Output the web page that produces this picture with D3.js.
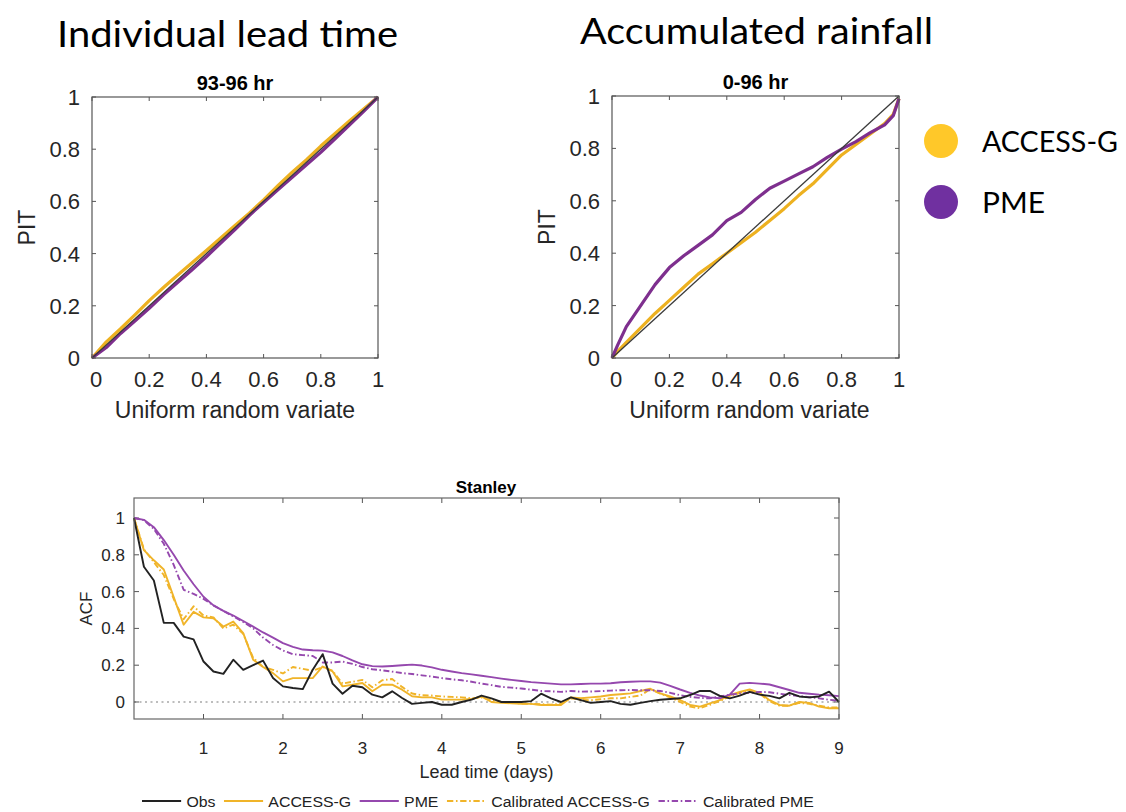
<!DOCTYPE html>
<html><head><meta charset="utf-8">
<script src="https://cdn.jsdelivr.net/npm/d3@7"></script>
<style>
html,body{margin:0;padding:0;background:#fff;}
svg{display:block;}
text{font-family:"Liberation Sans",Arial,sans-serif;fill:#262626;}
</style></head>
<body>
<svg id="chart" width="1126" height="812"></svg>
<script>
// ---------- DATA ----------
const pitTicks = [0, 0.2, 0.4, 0.6, 0.8, 1];
const pitTickLabels = ["0", "0.2", "0.4", "0.6", "0.8", "1"];

// Individual lead time (93-96 hr)
const indivX = [0,0.05,0.1,0.15,0.2,0.25,0.3,0.35,0.4,0.45,0.5,0.55,0.6,0.65,0.7,0.75,0.8,0.85,0.9,0.95,1];
const indivAccess = [0,0.062,0.112,0.165,0.22,0.27,0.318,0.365,0.412,0.46,0.508,0.555,0.606,0.66,0.712,0.76,0.812,0.86,0.908,0.954,1];
const indivPme = [0,0.04,0.094,0.142,0.19,0.242,0.29,0.338,0.388,0.44,0.492,0.546,0.596,0.644,0.692,0.74,0.788,0.84,0.892,0.945,1];

// Accumulated rainfall (0-96 hr)
const accumX = [0,0.02,0.05,0.1,0.15,0.2,0.25,0.3,0.35,0.4,0.45,0.5,0.55,0.6,0.65,0.7,0.75,0.8,0.85,0.9,0.95,0.98,1];
const accumAccess = [0,0.025,0.06,0.115,0.17,0.22,0.27,0.32,0.36,0.4,0.44,0.48,0.525,0.57,0.62,0.665,0.72,0.775,0.815,0.855,0.895,0.93,0.99];
const accumPme = [0,0.05,0.12,0.2,0.28,0.345,0.39,0.43,0.47,0.524,0.556,0.605,0.648,0.675,0.703,0.73,0.766,0.797,0.826,0.86,0.89,0.925,0.99];

// Lead-time ACF (Stanley)
const leadDays = [0.125,0.25,0.375,0.5,0.625,0.75,0.875,1,1.125,1.25,1.375,1.5,1.625,1.75,1.875,2,2.125,2.25,2.375,2.5,2.625,2.75,2.875,3,3.125,3.25,3.375,3.5,3.625,3.75,3.875,4,4.125,4.25,4.375,4.5,4.625,4.75,4.875,5,5.125,5.25,5.375,5.5,5.625,5.75,5.875,6,6.125,6.25,6.375,6.5,6.625,6.75,6.875,7,7.125,7.25,7.375,7.5,7.625,7.75,7.875,8,8.125,8.25,8.375,8.5,8.625,8.75,8.875,9];
const acfObs = [1.0,0.735,0.66,0.43,0.43,0.355,0.34,0.22,0.166,0.153,0.23,0.175,0.2,0.225,0.13,0.085,0.076,0.07,0.175,0.26,0.10,0.045,0.088,0.08,0.04,0.025,0.058,0.022,-0.01,-0.005,0.0,-0.015,-0.015,0.0,0.013,0.035,0.02,0.0,0.0,0.0,0.005,0.045,0.02,0.0,0.025,0.01,-0.005,0.0,0.005,-0.01,-0.015,-0.005,0.005,0.012,0.016,0.02,0.038,0.06,0.06,0.033,0.02,0.035,0.055,0.04,0.033,0.02,0.05,0.03,0.025,0.03,0.056,0.0];
const acfAccess = [1.0,0.825,0.77,0.72,0.57,0.42,0.49,0.46,0.455,0.41,0.437,0.374,0.23,0.19,0.157,0.112,0.13,0.13,0.13,0.193,0.166,0.085,0.094,0.103,0.058,0.094,0.094,0.067,0.031,0.025,0.025,0.013,0.013,0.013,0.016,0.03,0.0,-0.005,-0.007,-0.01,-0.01,-0.016,-0.016,-0.016,0.025,0.02,0.025,0.03,0.038,0.042,0.047,0.06,0.072,0.047,0.03,0.01,-0.016,-0.025,-0.007,0.01,0.037,0.055,0.068,0.05,0.01,-0.016,-0.02,0.0,-0.005,-0.025,-0.034,-0.034];
const acfPme = [1.0,0.99,0.95,0.88,0.8,0.715,0.64,0.572,0.525,0.495,0.47,0.44,0.41,0.378,0.35,0.32,0.3,0.285,0.281,0.279,0.27,0.25,0.226,0.205,0.195,0.193,0.196,0.2,0.203,0.198,0.188,0.175,0.166,0.157,0.15,0.143,0.135,0.127,0.12,0.114,0.108,0.104,0.1,0.096,0.096,0.098,0.1,0.1,0.102,0.107,0.11,0.112,0.112,0.105,0.088,0.068,0.05,0.035,0.025,0.02,0.04,0.1,0.104,0.1,0.095,0.08,0.065,0.05,0.045,0.04,0.037,0.032];
const acfCalAccess = [1.0,0.83,0.76,0.69,0.56,0.45,0.52,0.47,0.46,0.40,0.42,0.37,0.24,0.19,0.175,0.155,0.19,0.18,0.17,0.19,0.17,0.1,0.11,0.12,0.08,0.118,0.125,0.082,0.046,0.037,0.035,0.03,0.028,0.025,0.02,0.025,0.01,0.0,-0.005,-0.008,-0.01,-0.012,-0.014,-0.01,0.02,0.012,0.01,0.015,0.02,0.02,0.028,0.035,0.07,0.045,0.025,0.0,-0.025,-0.034,-0.015,0.005,0.03,0.05,0.062,0.045,0.005,-0.02,-0.02,-0.005,-0.01,-0.02,-0.03,-0.03];
const acfCalPme = [1.0,0.988,0.94,0.86,0.745,0.61,0.588,0.56,0.525,0.495,0.465,0.435,0.4,0.35,0.31,0.28,0.26,0.255,0.25,0.215,0.215,0.22,0.207,0.19,0.178,0.172,0.165,0.157,0.152,0.145,0.138,0.13,0.123,0.118,0.11,0.1,0.092,0.082,0.078,0.073,0.067,0.06,0.058,0.055,0.06,0.056,0.057,0.059,0.062,0.064,0.065,0.064,0.064,0.06,0.05,0.037,0.028,0.022,0.02,0.03,0.04,0.046,0.05,0.055,0.053,0.045,0.038,0.032,0.026,0.02,0.012,0.007];
const acfXTicks = [1,2,3,4,5,6,7,8,9];
const acfYTicks = [0,0.2,0.4,0.6,0.8,1];
const acfYTickLabels = ["0","0.2","0.4","0.6","0.8","1"];

const seriesNames = ["Obs","ACCESS-G","PME","Calibrated ACCESS-G","Calibrated PME"];
const topLegendNames = ["ACCESS-G","PME"];

// ---------- STYLE ----------
const YEL = "#EDB120", PUR = "#7E2F8E";
const YEL_B = "#F0B429", PUR_B = "#9548AE";
const svg = d3.select("#chart");
const titleFont = "Lato, 'Open Sans', sans-serif";

// ---------- TOP TITLES ----------
svg.append("text").attr("x", 57).attr("y", 47)
  .attr("textLength", 341).attr("lengthAdjust","spacingAndGlyphs")
  .style("font-family",titleFont).style("font-size","37px").style("fill","#000")
  .text("Individual lead time");
svg.append("text").attr("x", 580).attr("y", 44)
  .attr("textLength", 353).attr("lengthAdjust","spacingAndGlyphs")
  .style("font-family",titleFont).style("font-size","37px").style("fill","#000")
  .text("Accumulated rainfall");

// ---------- PIT PANEL ----------
function pitPanel(o){
  const x = d3.scaleLinear().domain([0,1]).range([o.left,o.right]);
  const y = d3.scaleLinear().domain([0,1]).range([o.bottom,o.top]);
  const g = svg.append("g");
  const tl = 4;
  pitTicks.forEach(t=>{
    g.append("line").attr("x1",x(t)).attr("x2",x(t)).attr("y1",o.bottom).attr("y2",o.bottom-tl).attr("stroke","#555");
    g.append("line").attr("x1",x(t)).attr("x2",x(t)).attr("y1",o.top).attr("y2",o.top+tl).attr("stroke","#555");
    g.append("line").attr("y1",y(t)).attr("y2",y(t)).attr("x1",o.left).attr("x2",o.left+tl).attr("stroke","#555");
    g.append("line").attr("y1",y(t)).attr("y2",y(t)).attr("x1",o.right).attr("x2",o.right-tl).attr("stroke","#555");
  });
  pitTicks.forEach((t,i)=>{
    g.append("text").attr("x",x(t)+ (i===0?4:0)).attr("y",o.bottom+29).attr("text-anchor","middle")
      .style("font-size","22px").text(pitTickLabels[i]);
    g.append("text").attr("x",o.left-12).attr("y",y(t)+8).attr("text-anchor","end")
      .style("font-size","22px").text(pitTickLabels[i]);
  });
  const line = d3.line().x(d=>x(d[0])).y(d=>y(d[1]));
  const drawS = (xs, ys, col) => g.append("path").datum(xs.map((v,i)=>[v,ys[i]]))
      .attr("d",line).attr("fill","none").attr("stroke",col).attr("stroke-width",3.2).attr("stroke-linejoin","round");
  drawS(o.xs, o.access, YEL);
  drawS(o.xs, o.pme, PUR);
  g.append("path").datum([[0,0],[1,1]]).attr("d",line).attr("fill","none").attr("stroke","#3a3a3a").attr("stroke-width",1.3);
  g.append("rect").attr("x",o.left).attr("y",o.top).attr("width",o.right-o.left).attr("height",o.bottom-o.top)
    .attr("fill","none").attr("stroke","#555").attr("stroke-width",1.2);
  g.append("text").attr("x",(o.left+o.right)/2).attr("y",o.top-7).attr("text-anchor","middle")
    .style("font-size","20px").style("font-weight","bold").style("fill","#000").text(o.title);
  g.append("text").attr("x",(o.left+o.right)/2 + o.xlOff).attr("y",o.bottom+60).attr("text-anchor","middle")
    .style("font-size","23px").text("Uniform random variate");
  g.append("text").attr("transform",`translate(${o.left-57},${(o.top+o.bottom)/2}) rotate(-90)`).attr("text-anchor","middle")
    .style("font-size","23px").text("PIT");
}
pitPanel({left:92,right:378,top:97,bottom:358,title:"93-96 hr",xs:indivX,access:indivAccess,pme:indivPme,xlOff:0});
pitPanel({left:612,right:899,top:96,bottom:358,title:"0-96 hr",xs:accumX,access:accumAccess,pme:accumPme,xlOff:-6});

// ---------- TOP LEGEND ----------
const legCols = ["#FFC829","#7030A0"];
const legW = [136, 63];
topLegendNames.forEach((n,i)=>{
  svg.append("circle").attr("cx",941).attr("cy",141+i*61).attr("r",17).attr("fill",legCols[i]);
  svg.append("text").attr("x",982).attr("y",152+i*61)
    .attr("textLength", legW[i]).attr("lengthAdjust","spacingAndGlyphs")
    .style("font-family",titleFont).style("font-size","29px").style("fill","#000").text(n);
});

// ---------- ACF PANEL ----------
const B = {left:134,right:839,top:498,bottom:719};
const bx = d3.scaleLinear().domain([0.125,9]).range([B.left,B.right]);
const by = d3.scaleLinear().domain([-0.0924,1.1087]).range([B.bottom,B.top]);
const bg = svg.append("g");
bg.append("line").attr("x1",B.left).attr("x2",B.right).attr("y1",by(0)).attr("y2",by(0))
  .attr("stroke","#a8a8a8").attr("stroke-width",1.6).attr("stroke-dasharray","2,3.5");
acfXTicks.forEach(t=>{
  bg.append("line").attr("x1",bx(t)).attr("x2",bx(t)).attr("y1",B.bottom).attr("y2",B.bottom-5).attr("stroke","#555");
  bg.append("line").attr("x1",bx(t)).attr("x2",bx(t)).attr("y1",B.top).attr("y2",B.top+5).attr("stroke","#555");
  bg.append("text").attr("x",bx(t)).attr("y",B.bottom+35).attr("text-anchor","middle").style("font-size","17px").text(String(t));
});
acfYTicks.forEach((t,i)=>{
  bg.append("line").attr("y1",by(t)).attr("y2",by(t)).attr("x1",B.left).attr("x2",B.left+5).attr("stroke","#555");
  bg.append("line").attr("y1",by(t)).attr("y2",by(t)).attr("x1",B.right).attr("x2",B.right-5).attr("stroke","#555");
  bg.append("text").attr("x",B.left-9).attr("y",by(t)+6).attr("text-anchor","end").style("font-size","17px").text(acfYTickLabels[i]);
});
const bline = d3.line().x((d,i)=>bx(leadDays[i])).y(d=>by(d));
const acfSeries = [
  {vals:acfObs, col:"#222", dash:null},
  {vals:acfAccess, col:YEL_B, dash:null},
  {vals:acfPme, col:PUR_B, dash:null},
  {vals:acfCalAccess, col:YEL_B, dash:"6,2.5,1.5,2.5"},
  {vals:acfCalPme, col:PUR_B, dash:"6,2.5,1.5,2.5"}
];
const drawOrder = [1,3,2,4,0];
drawOrder.forEach(k=>{
  const s = acfSeries[k];
  bg.append("path").datum(s.vals).attr("d",bline).attr("fill","none").attr("stroke",s.col)
    .attr("stroke-width",1.9).attr("stroke-linejoin","round").attr("stroke-dasharray",s.dash);
});
bg.append("rect").attr("x",B.left).attr("y",B.top).attr("width",B.right-B.left).attr("height",B.bottom-B.top)
  .attr("fill","none").attr("stroke","#666").attr("stroke-width",1.2);
bg.append("text").attr("x",486).attr("y",B.top-5).attr("text-anchor","middle")
  .style("font-size","17px").style("font-weight","bold").style("fill","#000").text("Stanley");
bg.append("text").attr("x",(B.left+B.right)/2).attr("y",B.bottom+59).attr("text-anchor","middle")
  .style("font-size","18px").text("Lead time (days)");
bg.append("text").attr("transform",`translate(${B.left-42},${(B.top+B.bottom)/2}) rotate(-90)`).attr("text-anchor","middle")
  .style("font-size","17px").text("ACF");

// ---------- BOTTOM LEGEND ----------
const lg = svg.append("g");
let cx = 0;
seriesNames.forEach((n,i)=>{
  const s = acfSeries[i];
  lg.append("line").attr("x1",cx).attr("x2",cx+37).attr("y1",0).attr("y2",0).attr("stroke",s.col)
    .attr("stroke-width",1.9).attr("stroke-dasharray",s.dash);
  const t = lg.append("text").attr("x",cx+42).attr("y",5.5).style("font-size","15px").style("fill","#222").text(n);
  cx += 42 + t.node().getComputedTextLength() + 8;
});
const lgW = cx - 8;
const targetW = 672;
lg.attr("transform",`translate(142,801) scale(${targetW/lgW},1)`);
</script>
</body></html>
